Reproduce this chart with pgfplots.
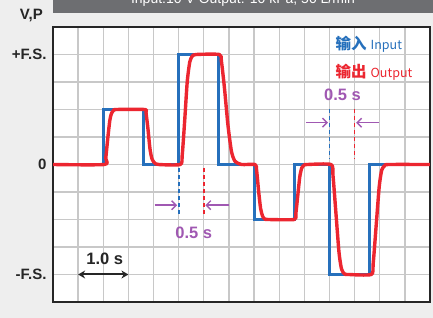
\documentclass[border=0pt]{standalone}
\usepackage{pgfplots}
\pgfplotsset{compat=1.18}
\usepackage{fontspec}
\setmainfont{Liberation Sans}
\newfontfamily\cjk{Noto Sans CJK SC}
\usetikzlibrary{arrows.meta}
\definecolor{bg}{HTML}{EEEEEE}
\definecolor{bar}{HTML}{6D6E71}
\definecolor{inblue}{RGB}{38,112,188}
\definecolor{outred}{RGB}{236,38,48}
\definecolor{anno}{RGB}{160,88,178}
\definecolor{gridc}{HTML}{C8C8C8}
\begin{document}
\begin{tikzpicture}[x=1pt,y=1pt]
\path[use as bounding box, fill=bg] (0,0) rectangle (433,318);
\fill[bar] (53,305.3) rectangle (440,325);
\node[white, font=\fontsize{14}{14}\selectfont, anchor=base, inner sep=0pt] at (243,314) {Input:10 V Output: 10 kPa, 50 L/min};
\node[font=\bfseries\fontsize{15}{15}\selectfont, anchor=base east, text=black!85, inner sep=0pt] at (43,298) {V,P};
\begin{axis}[
  at={(53pt,16pt)}, anchor=south west,
  scale only axis, width=377pt, height=275pt,
  xmin=0, xmax=7.5, ymin=-1.25, ymax=1.25,
  xtick={0,0.5,...,7.5}, xticklabels={},
  ytick={-1,0,1}, yticklabels={-F.S.,0,+F.S.},
  minor ytick={-1.25,-0.75,-0.5,-0.25,0.25,0.5,0.75,1.25},
  grid=both,
  major grid style={gridc, line width=1.3pt},
  minor grid style={gridc, line width=1.3pt},
  major tick length=0pt, minor tick length=0pt,
  axis line style={line width=2.2pt, black!85},
  axis background/.style={fill=white},
  yticklabel style={font=\bfseries\fontsize{15}{15}\selectfont, text=black!85, xshift=-3pt},
]
\addplot[inblue, line width=3pt, line join=miter] coordinates {
(0,0)(1,0)(1,0.5)(1.8,0.5)(1.8,0)(2.5,0)(2.5,1)(3.3,1)(3.3,0)(4,0)(4,-0.5)(4.8,-0.5)(4.8,0)(5.5,0)(5.5,-1)(6.3,-1)(6.3,0)(7.5,0)
};
\addplot[outred, line width=3.4pt, smooth, tension=0.4, line join=round] coordinates {
(0,0)(1.02,0)(1.05,0.06)(1.09,0.24)(1.13,0.40)(1.16,0.46)(1.20,0.49)(1.26,0.5)(1.82,0.5)(1.85,0.47)(1.89,0.32)(1.93,0.14)(1.97,0.05)(2.02,0.015)(2.1,0)
(2.53,0)(2.57,0.08)(2.62,0.4)(2.67,0.75)(2.72,0.93)(2.77,0.985)(2.85,1)(3.31,1)(3.35,0.94)(3.41,0.7)(3.48,0.36)(3.55,0.12)(3.62,0.03)(3.75,0)
(4.02,0)(4.05,-0.05)(4.09,-0.24)(4.13,-0.40)(4.17,-0.47)(4.21,-0.495)(4.28,-0.5)(4.80,-0.5)(4.83,-0.45)(4.87,-0.28)(4.91,-0.11)(4.95,-0.03)(5.0,-0.005)(5.06,0)
(5.53,0)(5.57,-0.1)(5.63,-0.45)(5.69,-0.8)(5.74,-0.95)(5.80,-0.995)(5.88,-1)(6.33,-1)(6.37,-0.9)(6.43,-0.55)(6.49,-0.2)(6.54,-0.05)(6.60,-0.01)(6.68,0)(7.5,0)
};
% annotations
\draw[inblue, line width=1.8pt, dash pattern=on 4pt off 3pt] (axis cs:5.5,0.5) -- (axis cs:5.5,0.05);
\draw[outred, line width=1.8pt, dash pattern=on 4pt off 3pt] (axis cs:6.0,0.5) -- (axis cs:6.0,0.05);
\draw[anno, line width=1.4pt, -{Straight Barb[length=4.5pt,width=9pt]}] (axis cs:5.04,0.38) -- (axis cs:5.47,0.38);
\draw[anno, line width=1.4pt, -{Straight Barb[length=4.5pt,width=9pt]}] (axis cs:6.49,0.38) -- (axis cs:6.03,0.38);
\node[anno, font=\bfseries\fontsize{16.5}{16}\selectfont] at (axis cs:5.76,0.63) {0.5 s};
\draw[inblue, line width=1.8pt, dash pattern=on 4pt off 3pt] (axis cs:2.5,-0.03) -- (axis cs:2.5,-0.45);
\draw[outred, line width=1.8pt, dash pattern=on 4pt off 3pt] (axis cs:3.0,-0.03) -- (axis cs:3.0,-0.45);
\draw[anno, line width=1.4pt, -{Straight Barb[length=4.5pt,width=9pt]}] (axis cs:2.02,-0.37) -- (axis cs:2.47,-0.37);
\draw[anno, line width=1.4pt, -{Straight Barb[length=4.5pt,width=9pt]}] (axis cs:3.51,-0.37) -- (axis cs:3.03,-0.37);
\node[anno, font=\bfseries\fontsize{16.5}{16}\selectfont] at (axis cs:2.8,-0.62) {0.5 s};
\draw[black!85, line width=2pt, {Stealth[length=7pt,width=8pt]}-{Stealth[length=7pt,width=8pt]}] (axis cs:0.5,-1) -- (axis cs:1.5,-1);
\node[black!85, font=\bfseries\fontsize{16.5}{16}\selectfont] at (axis cs:1.03,-0.86) {1.0 s};
% legend
\node[anchor=west, inblue, inner sep=0pt] at (axis cs:5.62,1.09) {{\cjk\bfseries\fontsize{15.5}{15}\selectfont 输入}\hspace{4pt}{\cjk\fontsize{12.5}{12}\selectfont Input}};
\node[anchor=west, outred, inner sep=0pt] at (axis cs:5.62,0.835) {{\cjk\bfseries\fontsize{15.5}{15}\selectfont 输出}\hspace{4pt}{\cjk\fontsize{12.5}{12}\selectfont Output}};
\end{axis}
\end{tikzpicture}
\end{document}
